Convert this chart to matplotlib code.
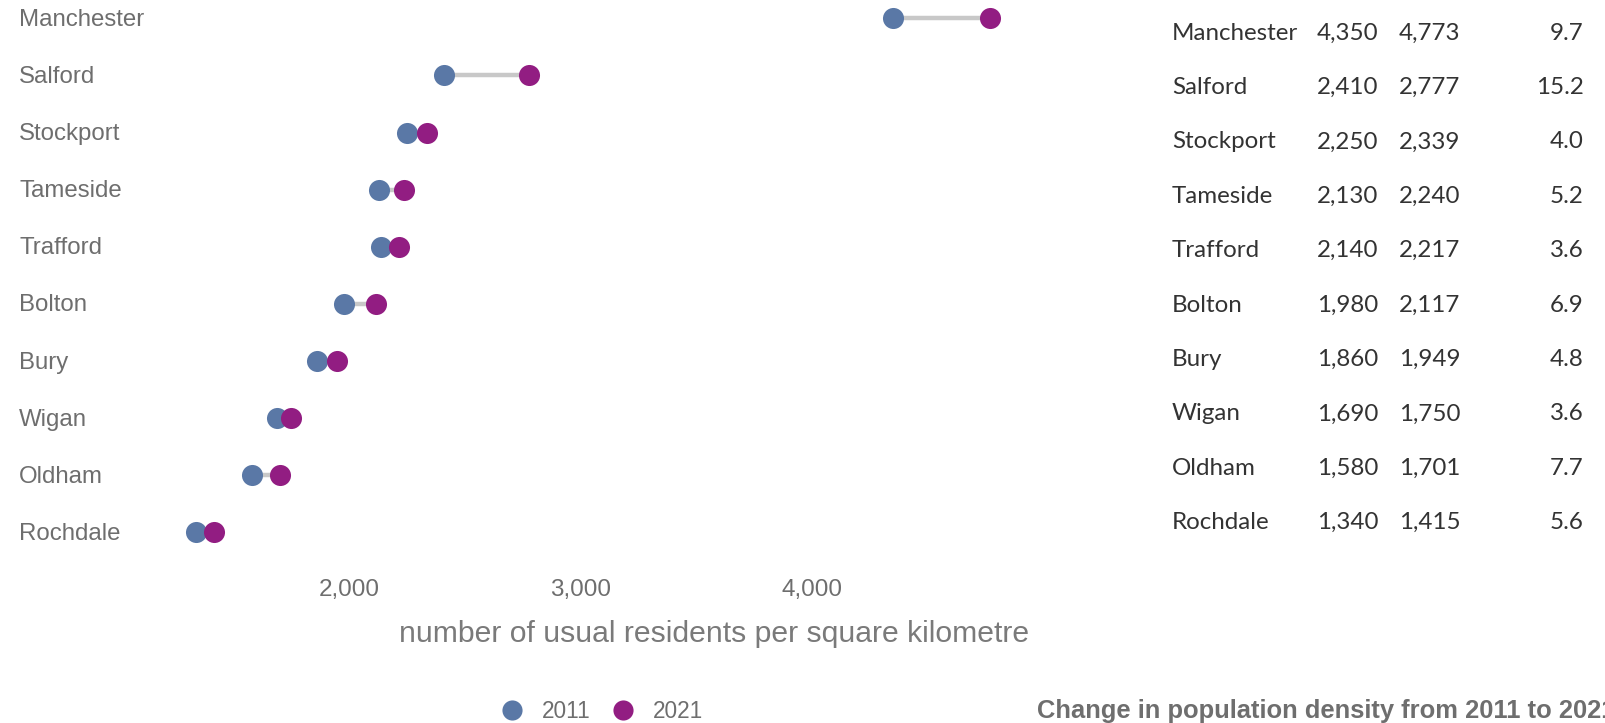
import matplotlib
matplotlib.use("Agg")
import matplotlib.pyplot as plt
import matplotlib.transforms as mtransforms
from matplotlib.lines import Line2D

areas = ["Manchester", "Salford", "Stockport", "Tameside", "Trafford",
         "Bolton", "Bury", "Wigan", "Oldham", "Rochdale"]
density_2011 = [4350, 2410, 2250, 2130, 2140, 1980, 1860, 1690, 1580, 1340]
density_2021 = [4773, 2777, 2339, 2240, 2217, 2117, 1949, 1750, 1701, 1415]
pct_change = [9.7, 15.2, 4.0, 5.2, 3.6, 6.9, 4.8, 3.6, 7.7, 5.6]
xticks = [2000, 3000, 4000]

c2011 = "#5a78a6"
c2021 = "#921d82"
grey = "#6e6e6e"
W, H = 1605, 723

fig = plt.figure(figsize=(W / 100, H / 100), dpi=100)
ax = fig.add_axes([163.9 / W, 1 - 560 / H, (1043 - 163.9) / W, 560 / H])
ax.set_xlim(1200, 5000)
ax.set_ylim(9.49, -0.322)

rows = list(range(len(areas)))
for i in rows:
    ax.plot([density_2011[i], density_2021[i]], [i, i], color="#c8c8c8",
            lw=3.2, zorder=1, solid_capstyle="butt")
ax.scatter(density_2011, rows, s=230, color=c2011, zorder=2, linewidths=0)
ax.scatter(density_2021, rows, s=230, color=c2021, zorder=3, linewidths=0)

for s in ax.spines.values():
    s.set_visible(False)
ax.set_yticks([])
ax.set_xticks(xticks)
ax.set_xticklabels([f"{t:,}" for t in xticks], family="Liberation Sans",
                   fontsize=17.5, color=grey)
ax.tick_params(axis="x", length=0, pad=14)

# area names on the left edge of the figure
trans = mtransforms.blended_transform_factory(fig.transFigure, ax.transData)
for i, name in enumerate(areas):
    ax.text(19 / W, i + 0.03, name, transform=trans, ha="left", va="center",
            family="Liberation Sans", fontsize=17.3, color=grey)

fig.text(714 / W, 1 - 634 / H, "number of usual residents per square kilometre",
         ha="center", va="center", family="Liberation Sans", fontsize=21.7,
         color="#7a7a7a")

# legend
handles = [Line2D([], [], ls="", marker="o", ms=14.5, color=c2011, mec="none"),
           Line2D([], [], ls="", marker="o", ms=14.5, color=c2021, mec="none")]
fig.legend(handles, ["2011", "2021"], loc="center", ncol=2, frameon=False,
           bbox_to_anchor=(602 / W, 1 - 711 / H), handletextpad=0.85,
           columnspacing=0.9, handlelength=1.0,
           prop={"family": "Liberation Sans", "size": 16.3},
           labelcolor=grey)

# table of values on the right
for i, name in enumerate(areas):
    y = 1 - (33.2 + i * 54.4) / H
    kw = dict(va="center", family="Lato", fontsize=17.4, color="#333333")
    fig.text(1172 / W, y, name, ha="left", **kw)
    fig.text(1317 / W, y, f"{density_2011[i]:,}", ha="left", **kw)
    fig.text(1399 / W, y, f"{density_2021[i]:,}", ha="left", **kw)
    fig.text(1583.5 / W, y, f"{pct_change[i]:.1f}", ha="right", **kw)

fig.text(1037 / W, 1 - 711 / H, "Change in population density from 2011 to 2021",
         ha="left", va="center", family="Liberation Sans", fontweight="bold",
         fontsize=18.4, color=grey)

fig.savefig("out.png", dpi=100)
